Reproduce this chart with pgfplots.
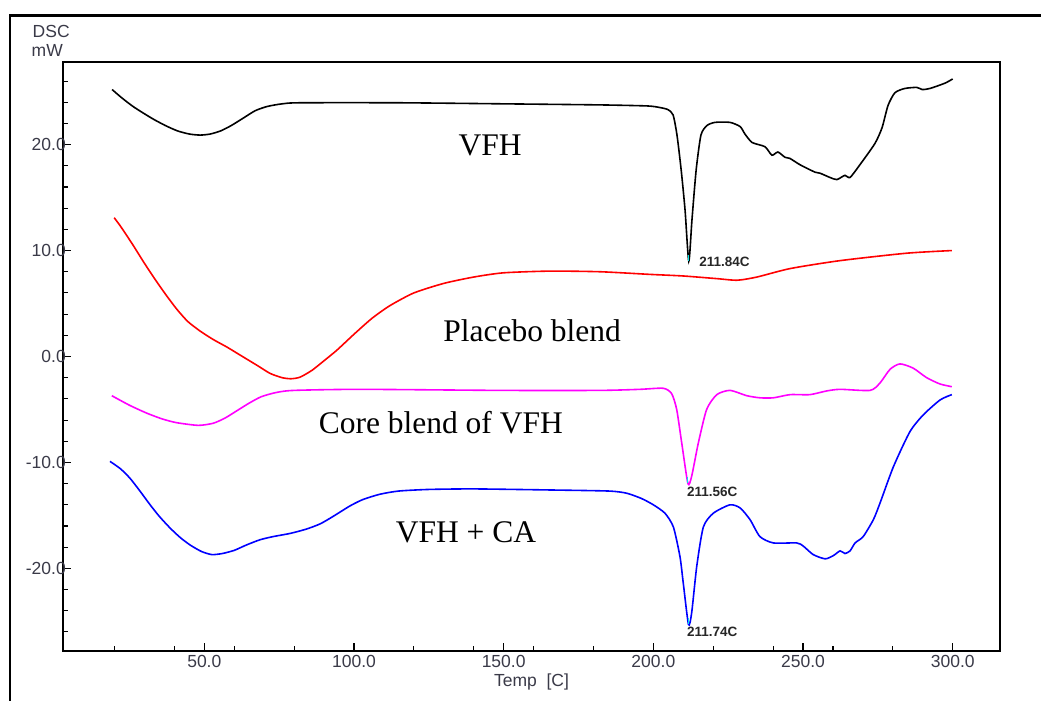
\documentclass[border=0pt]{standalone}
\usepackage{fontspec}
\setmainfont{Liberation Serif}
\newfontfamily\arial{Liberation Sans}
\usepackage{pgfplots}
\pgfplotsset{compat=1.18}
\definecolor{lbl}{HTML}{3A3A48}
\definecolor{cMag}{RGB}{255,0,255}
\definecolor{cRed}{RGB}{255,0,0}
\definecolor{cBlue}{RGB}{0,0,255}
\definecolor{cCyan}{RGB}{0,230,230}
\begin{document}
\begin{tikzpicture}
\path[use as bounding box] (0,0) rectangle (1041pt,701pt);
\draw[line width=2.5pt] (10pt,0) -- (10pt,685.5pt) -- (1041pt,685.5pt);
\node[anchor=base west, inner sep=0pt, text=lbl, font=\arial\fontsize{17.5}{20}\selectfont] at (32.5pt,663pt) {DSC};
\node[anchor=base west, inner sep=0pt, text=lbl, font=\arial\fontsize{17.5}{20}\selectfont] at (31.5pt,644.5pt) {mW};
\node[anchor=base, inner sep=0pt, text=lbl, font=\arial\fontsize{17.5}{20}\selectfont] at (531.5pt,14.3pt) {Temp\ \ [C]};
\begin{axis}[
  at={(63pt,50pt)}, anchor=south west, scale only axis,
  width=937pt, height=589pt,
  xmin=2.8, xmax=315.8, ymin=-27.8, ymax=27.8,
  axis line style={line width=1.8pt},
  tick align=inside, xtick pos=bottom, ytick pos=left,
  xtick={50,100,150,200,250,300},
  xticklabels={50.0,100.0,150.0,200.0,250.0,300.0},
  minor xtick={20,40,60,80,120,140,160,180,220,240,260,280},
  ytick={-20,-10,0,10,20},
  yticklabels={-20.0,-10.0,0.0,10.0,20.0},
  minor ytick={-26,-24,-22,-18,-16,-14,-12,-8,-6,-4,-2,2,4,6,8,12,14,16,18,22,24,26},
  major tick length=8pt, minor tick length=5pt,
  every tick/.style={line width=1.1pt, black},
  tick label style={font=\arial\fontsize{17.5}{20}\selectfont, text=lbl, inner sep=0pt},
  yticklabel style={xshift=3pt},
  xticklabel style={yshift=-4pt},
  clip=false,
]
\addplot[black, line width=1.6pt, smooth, tension=0.4] table {
19.2 25.2
22.5 24.4
26.2 23.6
29.5 23.0
33.0 22.4
37.0 21.8
41.0 21.3
45.0 21.0
48.6 20.9
52.0 21.0
55.5 21.3
59.0 21.8
63.0 22.5
67.0 23.2
71.0 23.6
76.0 23.85
82.0 23.95
115 23.95
150 23.85
182 23.75
198 23.65
202.2 23.5
204.9 23.3
206.6 22.8
207.9 20.9
209.3 17.6
210.6 13.8
211.84 9.0
212.9 12.9
214.3 17.6
215.9 20.9
217.9 21.8
220.6 22.1
225.6 22.1
229.0 21.7
230.6 21.0
233.0 20.2
237.3 19.8
239.6 19.0
241.6 19.3
244.0 18.8
245.6 18.7
249.0 18.1
254.0 17.4
255.7 17.3
259.0 16.9
261.3 16.7
264.0 17.1
265.7 16.9
269.0 18.1
274.0 20.1
276.4 21.6
278.4 23.7
280.7 24.9
284.0 25.3
288.0 25.4
289.8 25.2
292.4 25.3
297.4 25.8
300.0 26.2
};
\addplot[cRed, line width=1.6pt, smooth, tension=0.4] table {
19.9 13.1
22.0 12.3
26.0 10.6
30.0 8.8
34.0 7.1
37.5 5.7
41.0 4.4
44.5 3.3
48.6 2.4
53.0 1.6
57.5 0.9
61.0 0.3
64.5 -0.3
68.0 -0.9
72.0 -1.6
76.0 -2.0
79.0 -2.1
82.0 -1.95
86.0 -1.3
90.0 -0.4
94.3 0.6
100.0 2.1
106.0 3.6
112.0 4.8
120.0 6.0
130.0 6.9
140.0 7.5
150.0 7.9
165.5 8.06
182.2 8.0
198.9 7.75
210 7.6
221.2 7.35
228.0 7.2
234.6 7.5
245.7 8.3
262.4 9.05
284.6 9.75
299.7 10.0
};
\addplot[cMag, line width=1.6pt, smooth, tension=0.4] table {
19.1 -3.7
25.0 -4.6
30.8 -5.35
36.0 -5.9
40.8 -6.25
48.0 -6.5
53.0 -6.3
57.0 -5.8
61.0 -5.1
65.0 -4.4
69.0 -3.8
74.0 -3.4
80.0 -3.2
102 -3.1
148.8 -3.2
182.2 -3.2
195.5 -3.1
203.3 -3.0
206.1 -3.5
207.8 -5.0
209.5 -8.2
211.56 -12.0
212.8 -11.3
215.0 -8.2
217.8 -5.0
221.2 -3.6
225.6 -3.2
231.2 -3.7
235.6 -3.9
240.1 -3.9
245.7 -3.6
252.3 -3.6
257.9 -3.25
262.4 -3.1
272.4 -3.2
275.7 -2.5
279.1 -1.2
282.4 -0.7
286.8 -1.1
291.3 -2.0
295.8 -2.6
299.7 -2.85
};
\addplot[cBlue, line width=1.6pt, smooth, tension=0.4] table {
18.5 -9.9
22.0 -10.6
25.2 -11.5
28.5 -12.7
31.9 -14.0
35.0 -15.1
38.6 -16.2
42.0 -17.1
45.3 -17.8
49.0 -18.4
52.5 -18.7
56.0 -18.6
60.0 -18.3
64.0 -17.8
68.6 -17.3
73.0 -17.0
78.7 -16.7
84.0 -16.3
88.7 -15.8
93.0 -15.1
98.7 -14.1
103.0 -13.5
108.7 -13.0
115.0 -12.7
125.0 -12.55
140.0 -12.5
165.5 -12.6
185.0 -12.7
191.0 -12.9
196.0 -13.4
200.0 -14.0
203.9 -14.8
206.7 -16.1
208.9 -18.9
210.0 -21.4
211.74 -25.3
212.8 -24.2
214.5 -19.8
216.7 -16.1
220.0 -14.8
225.6 -14.0
229.0 -14.3
232.3 -15.4
235.6 -17.0
240.1 -17.6
247.9 -17.6
250.1 -17.9
253.4 -18.7
257.4 -19.1
260.1 -18.8
262.4 -18.35
264.0 -18.6
265.7 -18.35
267.4 -17.6
270.1 -17.0
273.5 -15.4
275.7 -13.85
280.2 -10.4
285.7 -7.1
290.2 -5.5
295.8 -4.1
299.7 -3.6
};
\addplot[only marks, cCyan, mark=|, mark size=3pt, mark options={line width=1pt}] coordinates {(211.84,9.3) (211.56,-11.7) (211.74,-25.0)};
\node[anchor=west, inner sep=0pt, font=\arial\bfseries\fontsize{13.5}{15}\selectfont, text=black!85] at (axis cs:215.3,8.9) {211.84C};
\node[anchor=west, inner sep=0pt, font=\arial\bfseries\fontsize{13.5}{15}\selectfont, text=black!85] at (axis cs:211.2,-12.8) {211.56C};
\node[anchor=west, inner sep=0pt, font=\arial\bfseries\fontsize{13.5}{15}\selectfont, text=black!85] at (axis cs:211.2,-26.0) {211.74C};
\node[anchor=base, inner sep=0pt, font=\fontsize{31.5}{34}\selectfont] at (axis cs:145.5,19.0) {VFH};
\node[anchor=base, inner sep=0pt, font=\fontsize{31.5}{34}\selectfont] at (axis cs:159.5,1.4) {Placebo blend};
\node[anchor=base, inner sep=0pt, font=\fontsize{31.5}{34}\selectfont] at (axis cs:129.0,-7.25) {Core blend of VFH};
\node[anchor=base, inner sep=0pt, font=\fontsize{31.5}{34}\selectfont] at (axis cs:137.4,-17.6) {VFH + CA};
\end{axis}
\end{tikzpicture}
\end{document}
